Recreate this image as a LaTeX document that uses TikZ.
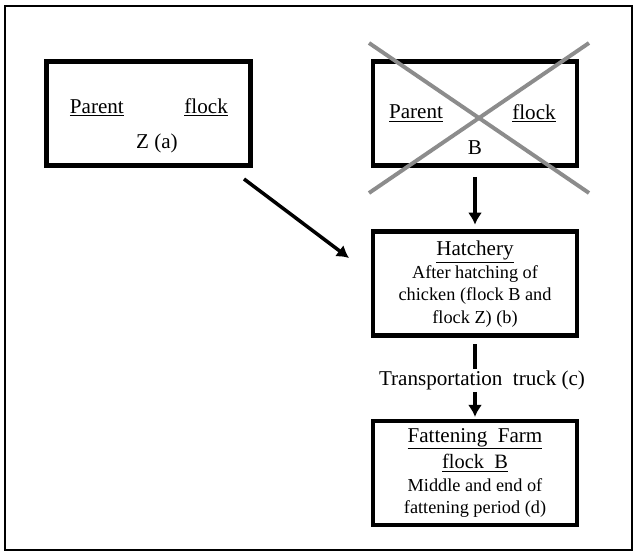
\documentclass[tikz,border=0pt]{standalone}
\usepackage{fontspec}
\setmainfont{Liberation Serif}
\usepackage{tikz}
\usetikzlibrary{arrows.meta}
\usetikzlibrary{positioning}

\begin{document}
\begin{tikzpicture}[x=0.025cm,y=-0.025cm,on grid,>={Latex[length=8.5pt,width=10pt]},
    box/.style={draw,line width=3.5pt,minimum width=5.1cm,minimum height=2.6cm,inner sep=1pt},
    labeltext/.style={font=\fontsize{15}{18}\selectfont,inner sep=0pt},
    boxtext/.style={font=\fontsize{13}{16}\selectfont,align=center},
    arr/.style={->,line width=2.5pt},
    cross/.style={line width=2.8pt,black!45}]

      \useasboundingbox (0,0) rectangle (638,556);
      \draw[line width=2pt] (5,6) rectangle (632,550);

      \node[box] (b) at (475,113.5) {};
      \node[box] (z) [left=8.16cm of b] {};
      \node[box,boxtext] (h) [below=4.26cm of b] {{\fontsize{15}{18}\selectfont\underline{Hatchery}}\\After hatching of\\chicken (flock B and\\flock Z) (b)};
      \node[box,boxtext] (f) [below=4.725cm of h] {{\fontsize{15}{18}\selectfont\underline{Fattening\ \ Farm}}\\[3pt]{\fontsize{14.5}{18}\selectfont\underline{flock\ \ B}}\\Middle and end of\\fattening period (d)};

      \node[labeltext] (zp) [above left=0.14cm and 1.29cm of z] {\underline{Parent}};
      \node[labeltext] (zf) [above right=0.16cm and 1.44cm of z] {\underline{flock}};
      \node[labeltext] (zn) [below right=0.74cm and 0.21cm of z] {Z (a)};
      \node[labeltext] (bp) [left=1.475cm of b] {\underline{Parent}};
      \node[labeltext] (bf) [right=1.475cm of b] {\underline{flock}};
      \node[labeltext] (bn) [below=0.86cm of b] {B};
      \node[labeltext] (t) [below right=2.4cm and 0.175cm of h] {Transportation\ \ truck (c)};

      \draw[cross] (369,43) -- (589,193);
      \draw[cross] (589,43) -- (369,193);

      \coordinate (zo) at (244,179);
      \coordinate (hi) at (349,258);

       \path[arr]
          (zo) edge (hi)
          (b.south) edge [shorten <=0.22cm,shorten >=0.12cm] (h.north)
          (h.south |- t.south) edge [shorten <=0.05cm,shorten >=0.04cm] (f.north)
      ;
      \draw[line width=2.5pt,shorten <=0.15cm,shorten >=0.03cm] (h.south) -- (h.south |- t.north);
  \end{tikzpicture}
\end{document}
